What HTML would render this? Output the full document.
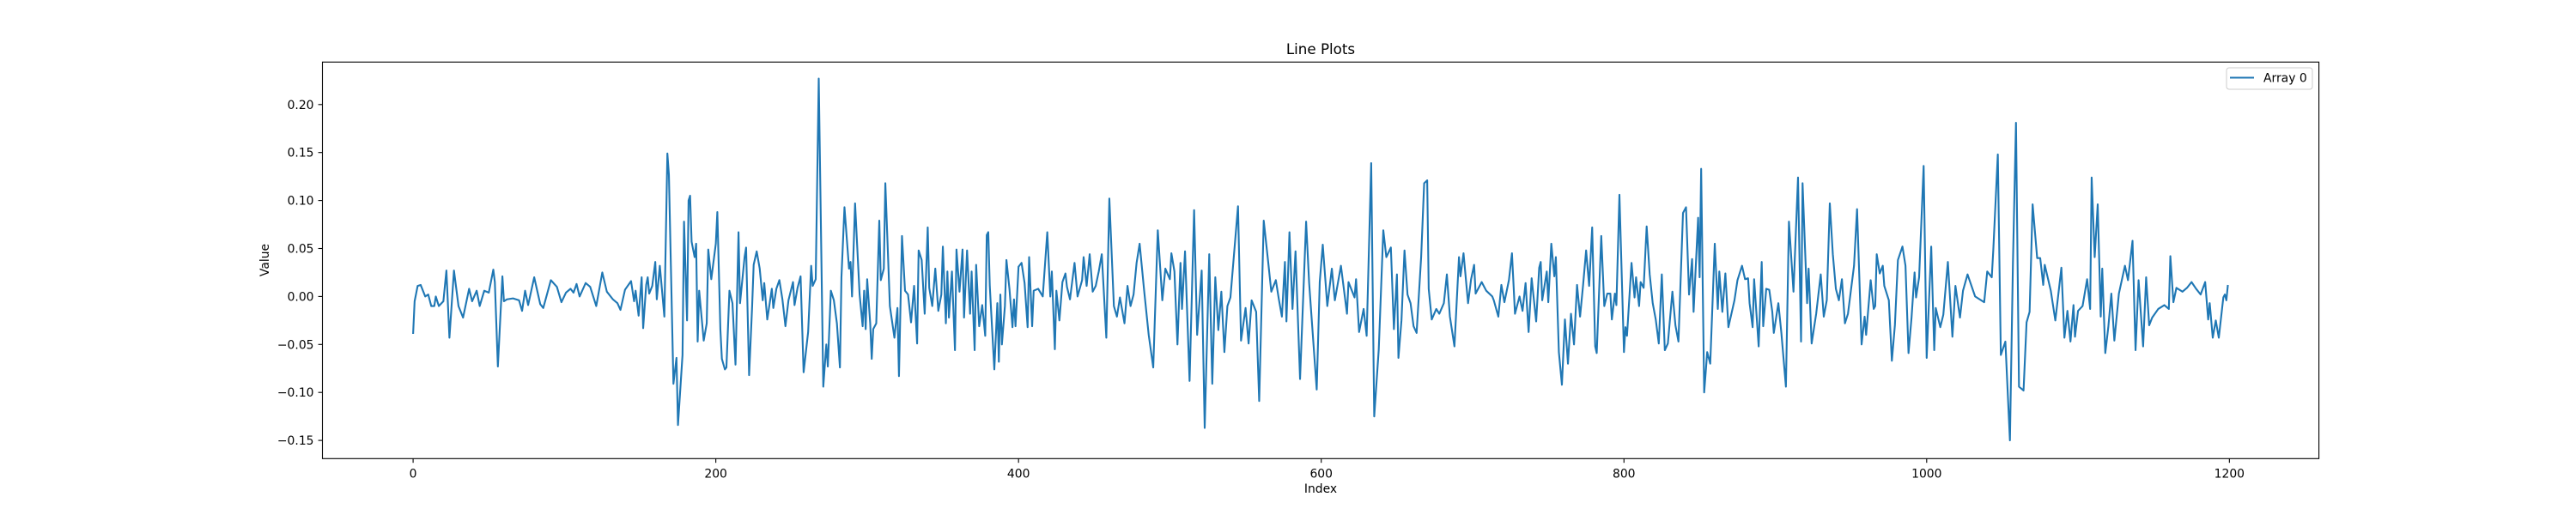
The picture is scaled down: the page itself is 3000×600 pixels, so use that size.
<!DOCTYPE html>
<html>
<head>
<meta charset="utf-8">
<style>
  html, body { margin: 0; padding: 0; background: #ffffff; }
  svg { display: block; font-family: "DejaVu Sans", "Liberation Sans", sans-serif; }
</style>
</head>
<body>
<svg id="chart" width="3000" height="600" viewBox="0 0 3000 600" xmlns="http://www.w3.org/2000/svg">
  <rect x="0" y="0" width="3000" height="600" fill="#ffffff"></rect>
  <text x="1538" y="63" font-size="16.7" text-anchor="middle" fill="#000">Line Plots</text>
  <text x="1538" y="574" font-size="13.9" text-anchor="middle" fill="#000">Index</text>
  <text x="0" y="0" font-size="13.9" text-anchor="middle" fill="#000" transform="translate(313,303) rotate(-90)">Value</text>
  <g id="xticks"></g>
  <g id="yticks"></g>
  <g id="series"></g>
  <rect x="375.5" y="72.3" width="2325.1" height="462" fill="none" stroke="#000" stroke-width="1.1"></rect>
  <g>
    <rect x="2593" y="79" width="100" height="25" rx="3" fill="#fff" fill-opacity="0.8" stroke="#cccccc" stroke-width="1"></rect>
    <line x1="2597" y1="90.5" x2="2625" y2="90.5" stroke="#1f77b4" stroke-width="2.1"></line>
    <text x="2636" y="95.5" font-size="13.9" fill="#000">Array 0</text>
  </g>
</svg>
<script>
// ---- data (index = sample position) ----
const xTicks = [0, 200, 400, 600, 800, 1000, 1200];
const yTicks = [-0.15, -0.10, -0.05, 0.00, 0.05, 0.10, 0.15, 0.20];
const yTickLabels = ["\u22120.15", "\u22120.10", "\u22120.05", "0.00", "0.05", "0.10", "0.15", "0.20"];
const seriesName = "Array 0";
const indices = [
0,1,3,5,8,10,12,14,15,17,
20,22,24,27,30,33,37,39,42,44,
47,50,53,54,56,59,60,62,66,70,
72,74,76,80,84,86,91,95,98,101,
104,106,108,110,114,117,121,125,128,132,
135,137,140,144,146,147,149,151,152,154,
155,156,
158,160,161,163,166,168,169,172,174,175,
178,179,181,182,183,184,186,187,188,189,
192,194,195,197,200,201,203,204,206,207,
209,211,213,215,216,219,220,222,224,225,
227,229,231,232,234,237,238,240,242,244,
246,248,251,252,254,256,258,261,263,264,
266,268,271,273,274,276,278,280,282,283,
285,288,289,290,292,295,297,298,299,300,
302,303,304,306,308,309,311,312,315,318,
320,321,323,325,327,329,331,333,334,336,
338,340,341,343,345,347,349,350,352,353,
354,356,358,359,361,363,364,366,368,369,
371,372,374,376,378,379,380,381,384,386,
387,388,389,391,392,394,396,397,398,400,
402,404,406,407,409,410,413,416,419,421,
422,424,425,427,429,431,432,434,437,439,
442,
443,445,447,449,451,453,455,458,460,463,
465,467,470,472,474,476,478,480,483,486,
489,492,495,497,500,501,503,505,507,508,
510,513,516,518,521,523,526,528,530,532,
534,536,538,540,545,547,550,552,554,557,
559,562,565,567,570,572,574,576,577,579,
581,583,586,590,592,597,599,601,604,607,
609,613,617,618,622,623,625,628,630,633,
635,638,641,643,646,648,650,651,653,655,
657,659,661,663,666,668,670,671,673,676,
678,681,683,685,688,691,692,694,697,699,
701,702,706,709,713,
714,717,719,721,724,726,728,731,733,735,
737,739,742,744,745,746,749,750,752,754,
755,757,759,761,763,765,767,769,771,773,
775,777,779,781,782,785,787,789,791,792,
794,795,797,800,801,802,805,807,808,810,
811,813,815,817,819,821,823,825,827,829,
832,834,836,839,841,843,845,846,849,850,
851,853,855,857,860,862,863,865,867,869,
873,875,878,880,882,883,885,886,889,891,
892,894,896,898,899,902,904,907,909,912,
915,917,918,921,922,924,927,930,932,934,
936,938,940,942,944,946,948,952,954,957,
959,960,963,965,966,967,969,971,972,
975,977,979,981,984,986,988,990,992,993,
995,998,1000,1003,1005,1006,1009,1011,1014,1017,
1019,1022,1024,1027,1032,1038,1040,1043,1044,1047,
1049,1052,1055,1057,1059,1061,1064,1066,1068,1070,
1073,1075,1077,1078,1082,1085,1089,1091,1093,1095,
1097,1098,1100,1103,1106,1108,1109,1111,1113,1115,
1116,1118,1120,1122,1124,1127,1131,1133,1136,1138,
1140,1143,1145,1147,1149,1153,1157,1160,1161,1163,
1165,1169,1172,1175,1178,1181,1184,1186,1187,1189,
1191,1193,1196,1197,1198,1199
];
const values = [
-0.039,-0.005,0.011,0.012,0.0,0.002,-0.01,-0.01,0.0,-0.01,
-0.005,0.027,-0.043,0.027,-0.01,-0.022,0.008,-0.005,0.006,-0.01,
0.006,0.004,0.028,0.015,-0.073,0.021,-0.005,-0.003,-0.002,-0.004,
-0.015,0.006,-0.009,0.02,-0.008,-0.012,0.017,0.01,-0.006,0.004,
0.008,0.004,0.013,0.0,0.014,0.01,-0.01,0.025,0.005,-0.003,
-0.007,-0.014,0.007,0.016,-0.005,0.006,-0.02,0.02,-0.033,0.012,
0.02,0.003,
0.011,0.036,-0.003,0.032,-0.021,0.149,0.127,-0.091,-0.064,-0.134,
-0.061,0.078,-0.025,0.1,0.105,0.057,0.041,0.055,-0.047,0.006,
-0.046,-0.028,0.049,0.018,0.055,0.088,-0.034,-0.065,-0.076,-0.074,
0.006,-0.007,-0.071,0.067,-0.007,0.041,0.051,-0.082,-0.01,0.033,
0.047,0.029,-0.004,0.014,-0.024,0.008,-0.012,0.008,0.017,-0.003,
-0.031,-0.004,0.015,-0.009,0.009,0.021,-0.079,-0.037,0.032,0.011,
0.018,0.227,-0.094,-0.05,-0.073,0.006,-0.004,-0.028,-0.074,0.02,
0.093,0.029,0.036,0.0,0.097,0.002,-0.031,0.006,-0.034,0.018,
-0.028,-0.065,-0.034,-0.028,0.079,0.017,0.029,0.118,-0.01,-0.043,
-0.012,-0.083,0.063,0.006,0.002,-0.027,0.011,-0.049,0.048,0.038,
-0.018,0.072,0.009,-0.01,0.029,-0.015,0.002,0.052,-0.028,0.026,
-0.022,0.026,-0.056,0.049,0.005,0.049,-0.022,0.048,-0.018,0.026,
-0.056,0.033,-0.031,-0.009,-0.041,0.064,0.067,0.011,-0.076,-0.007,
-0.068,0.002,-0.05,-0.01,0.038,0.008,-0.032,-0.003,-0.031,0.031,
0.035,0.014,-0.032,0.041,-0.031,0.006,0.008,0.0,0.067,0.0,
0.026,-0.055,0.006,-0.025,0.015,0.024,0.01,-0.003,0.035,0.0,
0.017,
0.041,0.011,0.044,0.005,0.011,0.026,0.044,-0.043,0.102,-0.01,
-0.021,-0.001,-0.028,0.011,-0.01,0.002,0.035,0.055,0.006,-0.04,
-0.074,0.069,-0.004,0.029,0.018,0.045,0.026,-0.05,0.035,-0.013,
0.047,-0.088,0.09,-0.04,0.027,-0.137,0.044,-0.091,0.02,-0.035,
0.005,-0.058,-0.01,-0.001,0.094,-0.046,-0.012,-0.049,-0.004,-0.016,
-0.109,0.079,0.035,0.005,0.017,-0.003,-0.021,0.036,-0.026,0.067,
-0.013,0.047,-0.086,0.078,0.014,-0.097,0.015,0.054,-0.01,0.029,
-0.004,0.032,-0.018,0.015,-0.001,0.018,-0.037,-0.013,-0.041,0.139,
-0.125,-0.055,0.069,0.041,0.051,-0.034,0.023,-0.064,-0.025,0.048,
0.002,-0.007,-0.031,-0.038,0.041,0.118,0.121,0.008,-0.024,-0.013,
-0.018,-0.007,0.023,-0.021,-0.052,0.041,0.021,0.045,-0.007,0.018,
0.033,0.003,0.015,0.006,0.0,
-0.004,-0.021,0.012,-0.006,0.017,0.045,-0.018,0.0,-0.015,0.014,
-0.037,0.019,-0.026,0.03,0.036,-0.004,0.026,-0.006,0.055,0.021,
0.041,-0.058,-0.092,-0.024,-0.07,-0.018,-0.05,0.012,-0.021,0.012,
0.048,0.011,0.072,-0.052,-0.059,0.063,-0.01,0.003,0.003,-0.024,
0.003,-0.009,0.106,-0.058,-0.032,-0.041,0.035,-0.001,0.02,-0.01,
0.015,0.009,0.073,0.023,-0.007,-0.024,-0.049,0.023,-0.056,-0.049,
0.005,-0.03,-0.047,0.087,0.093,0.002,0.039,-0.016,0.082,0.02,
0.133,-0.1,-0.058,-0.07,0.055,-0.013,0.026,-0.016,0.024,-0.032,
-0.004,0.017,0.032,0.018,0.019,-0.007,-0.032,0.018,-0.052,0.036,
-0.031,0.008,0.007,-0.016,-0.038,-0.007,-0.038,-0.094,0.078,0.005,
0.124,-0.047,0.118,-0.007,0.029,-0.049,-0.018,0.023,-0.021,-0.004,
0.097,0.044,0.008,-0.004,0.018,-0.028,-0.018,0.032,0.091,-0.05,
-0.021,-0.04,0.017,-0.013,-0.01,0.044,0.024,0.032,0.011,
-0.004,-0.067,-0.03,0.038,0.052,0.032,-0.059,-0.022,0.025,-0.001,
0.02,0.136,-0.064,0.052,-0.056,-0.012,-0.032,-0.019,0.036,-0.042,
0.011,-0.022,0.006,0.023,0.0,-0.006,0.026,0.02,0.048,0.148,
-0.061,-0.047,-0.15,0.035,0.181,-0.094,-0.098,-0.027,-0.016,0.096,
0.04,0.04,0.012,0.033,0.006,-0.025,0.03,-0.043,-0.015,-0.047,
-0.009,-0.042,-0.015,-0.01,0.018,-0.013,0.124,0.041,0.096,-0.021,
0.029,-0.059,-0.032,0.003,-0.046,0.003,0.032,0.017,0.058,-0.056,
0.017,-0.052,0.02,-0.03,-0.022,-0.013,-0.009,-0.013,0.042,-0.006,
0.009,0.005,0.009,0.015,0.008,0.002,0.015,-0.024,-0.007,-0.043,
-0.025,-0.043,-0.001,0.002,-0.004,0.012
];

// ---- axis functions ----
const X0 = 481.1, XPX = 1.7627;      // pixel of index 0, px per index
const Y0 = 345.4, YPX = 1118;        // pixel of value 0, px per unit
function xScale(v) { return X0 + v * XPX; }
function yScale(v) { return Y0 - v * YPX; }

const NS = "http://www.w3.org/2000/svg";
const FRAME_BOTTOM = 534.3, FRAME_LEFT = 375.5;

const gx = document.getElementById("xticks");
xTicks.forEach(function (t) {
  const x = xScale(t);
  const tick = document.createElementNS(NS, "line");
  tick.setAttribute("x1", x); tick.setAttribute("x2", x);
  tick.setAttribute("y1", FRAME_BOTTOM); tick.setAttribute("y2", FRAME_BOTTOM + 4.9);
  tick.setAttribute("stroke", "#000"); tick.setAttribute("stroke-width", "1.1");
  
  
  gx.appendChild(tick);
  const lbl = document.createElementNS(NS, "text");
  lbl.setAttribute("x", x); lbl.setAttribute("y", FRAME_BOTTOM + 22);
  lbl.setAttribute("font-size", "13.9"); lbl.setAttribute("text-anchor", "middle");
  lbl.textContent = String(t);
  
  
  gx.appendChild(lbl);
});

const gy = document.getElementById("yticks");
yTicks.forEach(function (t, i) {
  const y = yScale(t);
  const tick = document.createElementNS(NS, "line");
  tick.setAttribute("x1", FRAME_LEFT - 4.9); tick.setAttribute("x2", FRAME_LEFT);
  tick.setAttribute("y1", y); tick.setAttribute("y2", y);
  tick.setAttribute("stroke", "#000"); tick.setAttribute("stroke-width", "1.1");
  
  
  gy.appendChild(tick);
  const lbl = document.createElementNS(NS, "text");
  lbl.setAttribute("x", FRAME_LEFT - 10); lbl.setAttribute("y", y + 5);
  lbl.setAttribute("font-size", "13.9"); lbl.setAttribute("text-anchor", "end");
  lbl.textContent = yTickLabels[i];
  
  
  gy.appendChild(lbl);
});

const gs = document.getElementById("series");
const n = Math.min(indices.length, values.length);
let pts = [];
for (let i = 0; i < n; i++) {
  pts.push(xScale(indices[i]).toFixed(2) + "," + yScale(values[i]).toFixed(2));
}
const line = document.createElementNS(NS, "polyline");
line.setAttribute("points", pts.join(" "));
line.setAttribute("fill", "none");
line.setAttribute("stroke", "#1f77b4");
line.setAttribute("stroke-width", "2.1");
line.setAttribute("stroke-linejoin", "round");


gs.appendChild(line);
</script>
</body>
</html>
